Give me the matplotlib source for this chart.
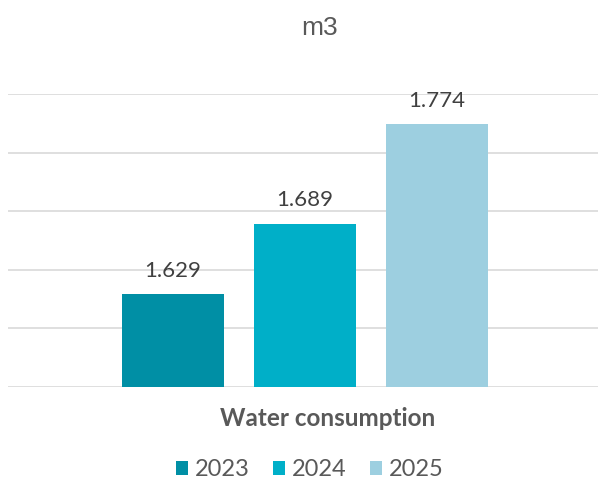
import matplotlib
matplotlib.use('Agg')
import matplotlib.pyplot as plt
from matplotlib.patches import Patch

# Water consumption per year, m3
years = ['2023', '2024', '2025']
values = [1.629, 1.689, 1.774]
colors = ['#008FA5', '#00AFC8', '#9DCFE0']
category = 'Water consumption'
unit = 'm3'

W, H = 598, 484
fig = plt.figure(figsize=(W / 100, H / 100), dpi=100)
ax = fig.add_axes([8 / W, 1 - 387 / H, 1 - 8 / W, (387 - 94) / H])

positions = [-1, 0, 1]
bars = ax.bar(positions, values, width=0.773, color=colors, zorder=3)
for rect, v in zip(bars, values):
    ax.annotate(f'{v:.3f}', (rect.get_x() + rect.get_width() / 2, v),
                xytext=(0, 10), textcoords='offset points',
                ha='center', va='bottom', fontsize=16, color='#404040',
                family='Lato')

ax.set_ylim(1.55, 1.80)
ax.set_xlim(-2.25, 2.22)
ax.set_yticks([1.55, 1.60, 1.65, 1.70, 1.75, 1.80])
ax.yaxis.grid(True, color='#D9D9D9', linewidth=1.2, zorder=0)
ax.tick_params(left=False, bottom=False, labelleft=False, labelbottom=False)
for s in ax.spines.values():
    s.set_visible(False)
ax.set_facecolor('none')

fig.text(320 / W, 1 - 28 / H, unit, ha='center', va='center',
         fontsize=19, color='#595959', family='Liberation Sans')
fig.text(328 / W, 1 - 419 / H, category, ha='center', va='center',
         fontsize=17.5, fontweight='bold', color='#595959', family='Lato')

handles = [Patch(facecolor=c, label=y) for c, y in zip(colors, years)]
fig.legend(handles=handles, loc='center', bbox_to_anchor=(310 / W, 1 - 470 / H),
           ncol=3, frameon=False, handlelength=0.5, handleheight=0.5,
           handletextpad=0.3, columnspacing=1.0,
           prop={'family': 'Lato', 'size': 17}, labelcolor='#595959')

fig.savefig('out.png', dpi=100)
